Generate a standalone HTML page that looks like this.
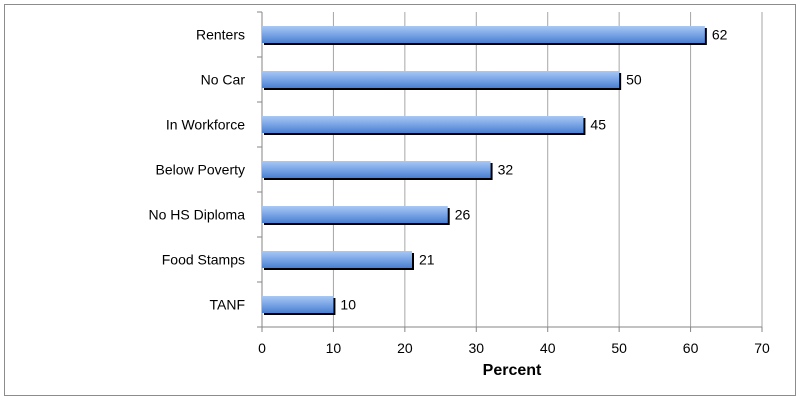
<!DOCTYPE html>
<html><head><meta charset="utf-8"><style>
body{margin:0;background:#fff;font-family:"Liberation Sans",sans-serif}
</style></head><body>
<svg width="800" height="400" xmlns="http://www.w3.org/2000/svg">
<defs>
<linearGradient id="g" x1="0" y1="0" x2="0" y2="1">
<stop offset="0" stop-color="#a9c8f5"/><stop offset="0.5" stop-color="#79a5e6"/><stop offset="1" stop-color="#4a7fd0"/>
</linearGradient>
</defs>
<rect x="4.5" y="4.5" width="791" height="391" fill="#fff" stroke="#8c8c8c"/>
<g id="plot"></g>
</svg>
<script>
const categories=["Renters","No Car","In Workforce","Below Poverty","No HS Diploma","Food Stamps","TANF"];
const values=[62,50,45,32,26,21,10];
const ticks=[0,10,20,30,40,50,60,70];
const ns="http://www.w3.org/2000/svg";
const g=document.getElementById('plot');
const x0=262,x1=762,yTop=12,yBot=327;
const xs=v=>x0+(v-0)/(70)*(x1-x0);
const band=(yBot-yTop)/categories.length;
function mk(t,a,txt){const e=document.createElementNS(ns,t);for(const k in a)e.setAttribute(k,a[k]);if(txt!=null)e.textContent=txt;g.appendChild(e);return e;}
ticks.forEach(t=>{
 if(t>0){const l=mk('line',{x1:xs(t),x2:xs(t),y1:yTop,y2:yBot,stroke:'#a6a6a6','stroke-width':1});
 
 }
 const tk=mk('line',{x1:xs(t),x2:xs(t),y1:yBot,y2:yBot+5,stroke:'#868686'});
 
 
 const tl=mk('text',{x:xs(t),y:yBot+26,'text-anchor':'middle','font-size':14,fill:'#000'},t);
 
 
});
for(let i=0;i<=categories.length;i++){
 const y=yTop+i*band;
 const t=mk('line',{x1:x0-5,x2:x0,y1:y,y2:y,stroke:'#868686'});
 
 
}
const ya=mk('line',{x1:x0,x2:x0,y1:yTop,y2:yBot,stroke:'#868686'});


const xa=mk('line',{x1:x0,x2:x1,y1:yBot,y2:yBot,stroke:'#868686'});


categories.forEach((c,i)=>{
 const cy=yTop+band*(i+0.5);
 const bh=17;
 const w=xs(values[i])-x0;
 const sh=mk('rect',{x:x0+2,y:cy-bh/2+2,width:w,height:bh,fill:'#000'});
 
 
 const b=mk('rect',{x:x0,y:cy-bh/2,width:w,height:bh,fill:'url(#g)'});
 
 
 const v=mk('text',{x:xs(values[i])+7,y:cy+5,'font-size':14,fill:'#000'},values[i]);
 
 
 const l=mk('text',{x:x0-17,y:cy+5,'text-anchor':'end','font-size':14,fill:'#000'},c);
 
 
});
const at=mk('text',{x:(x0+x1)/2,y:375,'text-anchor':'middle','font-size':16,'font-weight':'bold',fill:'#000'},'Percent');


</script>
</body></html>
